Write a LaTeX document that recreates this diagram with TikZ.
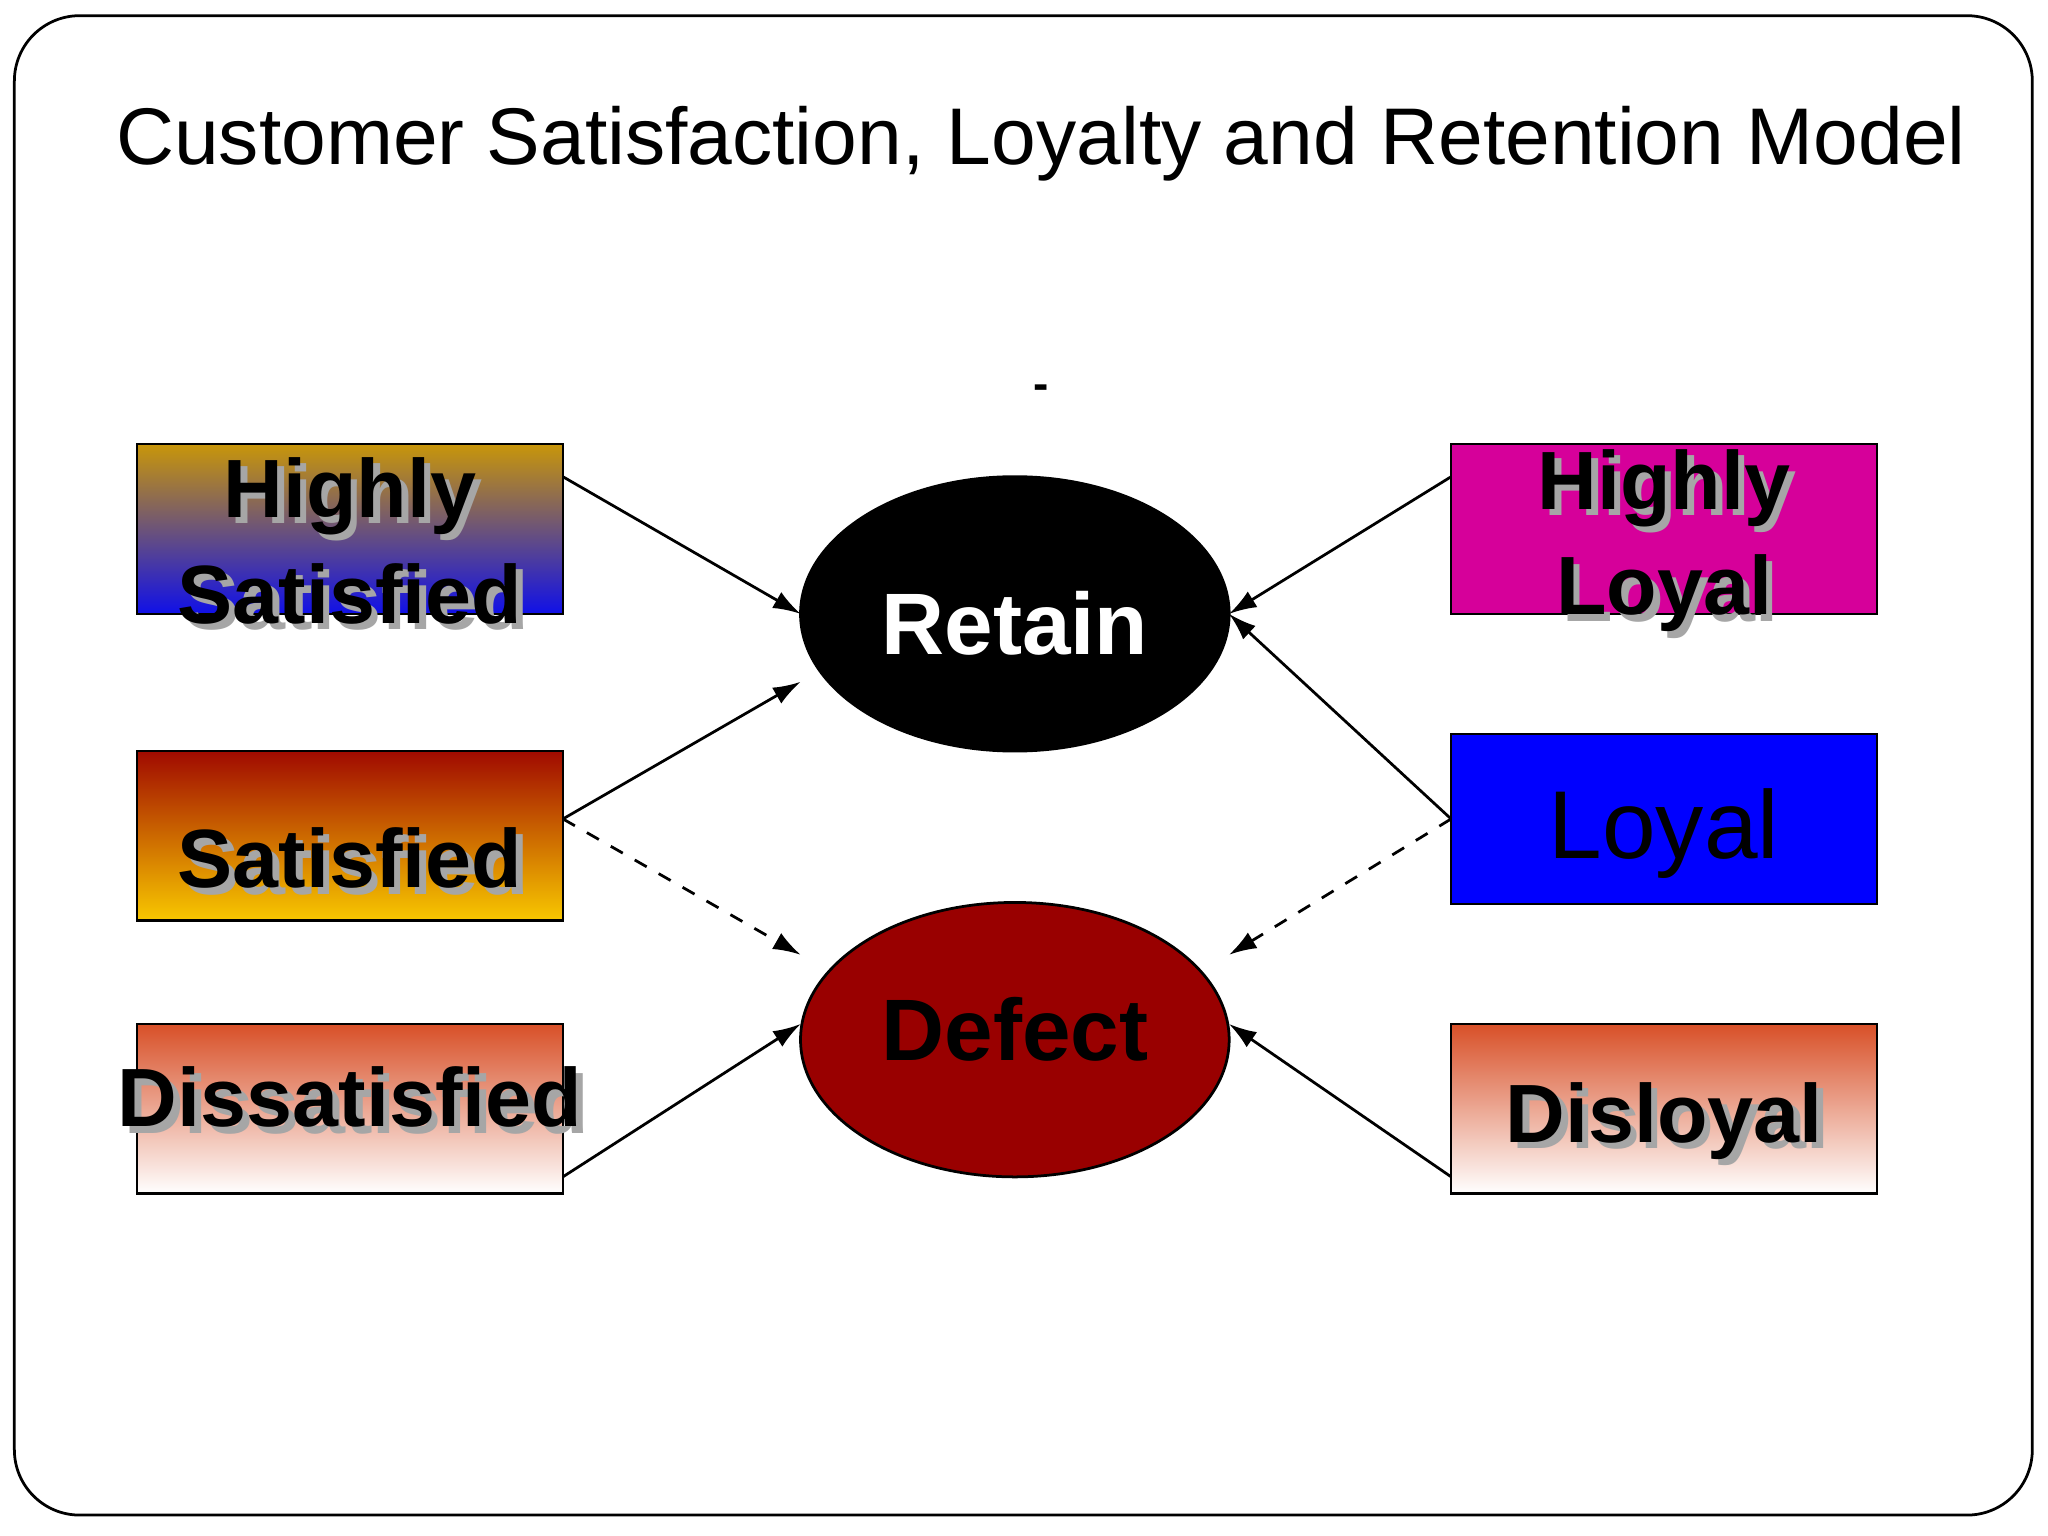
\documentclass[tikz,border=0pt]{standalone}
\usepackage{fontspec}
\setmainfont{Liberation Sans}
\usetikzlibrary{arrows.meta,shapes.geometric}
\definecolor{hsgold}{HTML}{C8960A}
\definecolor{hsmid}{HTML}{7A6A90}
\definecolor{hsblue}{HTML}{1010E8}
\definecolor{sred}{HTML}{A00A00}
\definecolor{smid}{HTML}{D87A00}
\definecolor{syel}{HTML}{F8C800}
\definecolor{dorange}{HTML}{D85028}
\definecolor{dmid}{HTML}{EEA898}
\definecolor{hlpink}{HTML}{D6009A}
\definecolor{defred}{HTML}{990000}
\begin{document}
\begin{tikzpicture}[x=0.01cm,y=-0.01cm,
  box/.style={draw=black,line width=0.6pt,minimum width=3.26cm,minimum height=1.30cm,inner sep=0},
  lbl/.style={inner sep=0,align=center,font=\fontsize{18}{23}\selectfont\bfseries},
  shd/.style={lbl,text=gray!70,xshift=0.5mm,yshift=-0.5mm},
  oval/.style={ellipse,draw=black,line width=0.6pt,minimum width=3.28cm,minimum height=2.10cm},
  con/.style={line width=0.6pt,-{Latex[length=6pt,width=4pt]}},
  dcon/.style={con,dashed}]
\useasboundingbox (0,0) rectangle (1568,1176);
\draw[line width=0.6pt,rounded corners=0.5cm,fill=white] (11,12) rectangle (1556,1160);
\node[font=\fontsize{17.5}{20}\selectfont] (title) at (797,110) {Customer Satisfaction, Loyalty and Retention Model};
\node[font=\bfseries] (dash) at (797,300) {-};
\node[box,top color=hsgold,middle color=hsmid,bottom color=hsblue] (hs) at (268,405) {};
\node[box,top color=sred,middle color=smid,bottom color=syel] (sat) at (268,640) {};
\node[box,top color=dorange,middle color=dmid,bottom color=white] (dis) at (268,849) {};
\node[box,fill=hlpink] (hl) at (1274,405) {};
\node[box,fill=blue] (loy) at (1274,627) {};
\node[box,top color=dorange,middle color=dmid,bottom color=white] (dl) at (1274,849) {};
\node[shd] (hsS) at (268,414) {Highly\\Satisfied};
\node[lbl] (hsT) at (268,414) {Highly\\Satisfied};
\node[shd] (satS) at (268,657) {Satisfied};
\node[lbl] (satT) at (268,657) {Satisfied};
\node[shd] (disS) at (268,840) {Dissatisfied};
\node[lbl] (disT) at (268,840) {Dissatisfied};
\node[shd] (hlS) at (1274,414) {Highly\\Loyal};
\node[lbl] (hlT) at (1274,414) {Highly\\Loyal};
\node[font=\fontsize{21}{24}\selectfont] (loyT) at (1274,638) {Loyal};
\node[shd] (dlS) at (1274,858) {Disloyal};
\node[lbl] (dlT) at (1274,858) {Disloyal};
\node[oval,fill=black] (ret) at (777,470) {};
\node[text=white,font=\fontsize{19}{22}\selectfont\bfseries] (retT) at (777,477) {Retain};
\node[oval,fill=defred] (def) at (777,796) {};
\node[font=\fontsize{19}{22}\selectfont\bfseries] (defT) at (777,788) {Defect};
\coordinate (rl) at (613,470); \coordinate (rl2) at (613,522);
\coordinate (dl1) at (613,731); \coordinate (dl2) at (613,784);
\coordinate (rr) at (941,470); \coordinate (dr1) at (941,731); \coordinate (dr2) at (941,784);
\coordinate (a1) at (431,365); \coordinate (a2) at (431,627); \coordinate (a3) at (431,901);
\coordinate (b1) at (1111,365); \coordinate (b2) at (1111,627); \coordinate (b3) at (1111,901);
\draw[con] (a1) -- (rl);
\draw[con] (a2) -- (rl2);
\draw[dcon] (a2) -- (dl1);
\draw[con] (a3) -- (dl2);
\draw[con] (b1) -- (rr);
\draw[con] (b2) -- (rr);
\draw[dcon] (b2) -- (dr1);
\draw[con] (b3) -- (dr2);
\end{tikzpicture}
\end{document}
